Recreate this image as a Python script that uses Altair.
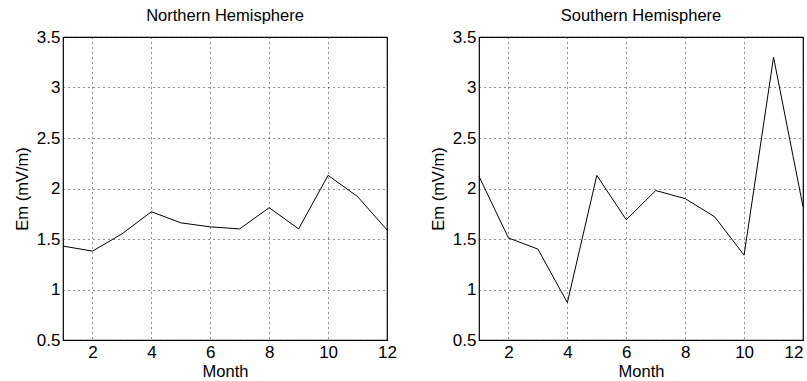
import altair as alt
import pandas as pd

months = list(range(1, 13))
north = [1.43, 1.38, 1.55, 1.77, 1.66, 1.62, 1.60, 1.81, 1.60, 2.13, 1.92, 1.59]
south = [2.12, 1.51, 1.40, 0.87, 2.13, 1.69, 1.98, 1.90, 1.72, 1.34, 3.30, 1.82]
x_ticks = [2, 4, 6, 8, 10, 12]
y_ticks = [0.5, 1, 1.5, 2, 2.5, 3, 3.5]
titles = ["Northern Hemisphere", "Southern Hemisphere"]

FONT = "Liberation Sans"


def panel(vals, title, flush):
    df = pd.DataFrame({"Month": months, "Em": vals})
    return (
        alt.Chart(df, title=alt.TitleParams(title, fontSize=16.5, font=FONT, fontWeight="normal",
                                            color="black", offset=4))
        .mark_line(color="black", strokeWidth=1)
        .encode(
            x=alt.X("Month:Q",
                    scale=alt.Scale(domain=[1, 12], nice=False, zero=False),
                    axis=alt.Axis(values=x_ticks, title="Month", labelFontSize=17,
                                  titleFontSize=16.5, labelFont=FONT, titleFont=FONT,
                                  titleFontWeight="normal", labelColor="black", titleColor="black",
                                  ticks=False, domain=False, labelPadding=4, titlePadding=3,
                                  grid=True, gridColor="#222", gridDash=[1, 4], gridWidth=1,
                                  format="~g", labelFlush=flush)),
            y=alt.Y("Em:Q",
                    scale=alt.Scale(domain=[0.5, 3.5], nice=False, zero=False),
                    axis=alt.Axis(values=y_ticks, title="Em (mV/m)", labelFontSize=17,
                                  titleFontSize=16.5, labelFont=FONT, titleFont=FONT,
                                  titleFontWeight="normal", labelColor="black", titleColor="black",
                                  ticks=False, domain=False, labelPadding=3, titlePadding=6,
                                  grid=True, gridColor="#222", gridDash=[1, 4], gridWidth=1,
                                  format="~g", labelFlush=False)),
        )
        .properties(width=324, height=303)
    )


chart = (
    alt.hconcat(panel(north, titles[0], False), panel(south, titles[1], True), spacing=31)
    .configure_view(stroke="black", strokeWidth=1.2)
    .properties(padding={"left": 13, "top": 6, "right": 0, "bottom": 0}, background="white")
)

chart.save("out.html", embed_options={"renderer": "svg", "actions": False})
